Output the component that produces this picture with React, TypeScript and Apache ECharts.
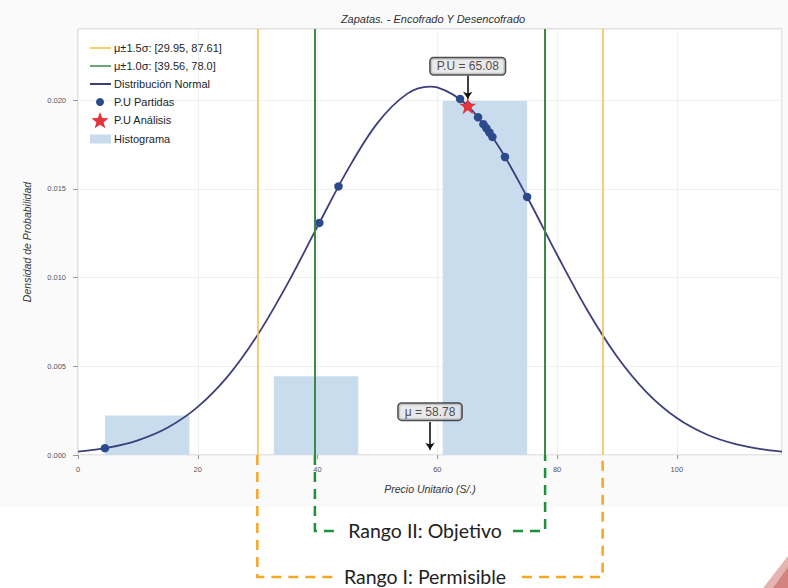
import React, { useEffect, useRef } from "react";
import * as echarts from "echarts";

// ---------- data ----------
const TITLE = "Zapatas. - Encofrado Y Desencofrado";
const X_NAME = "Precio Unitario (S/.)";
const Y_NAME = "Densidad de Probabilidad";
const MU = 58.78;
const PU_ANALISIS = 65.08;
const RANGE_15 = [29.95, 87.61];
const RANGE_10 = [39.56, 78.0];
const X_MAX = 117.56;
const Y_MAX = 0.024;

const LEGEND_LABELS = [
  "μ±1.5σ: [29.95, 87.61]",
  "μ±1.0σ: [39.56, 78.0]",
  "Distribución Normal",
  "P.U Partidas",
  "P.U Análisis",
  "Histograma",
];

// normal curve
const curveX = [0, 5, 10, 15, 20, 25, 30, 35, 40, 45, 50, 55, 58.78, 60, 65, 70, 75, 80, 85, 90, 95, 100, 105, 110, 115, 117.56];
const curveY = [0.000193, 0.000414, 0.000829, 0.001551, 0.002713, 0.004428, 0.006767, 0.009654, 0.012878, 0.016052, 0.0187, 0.020359, 0.020757, 0.020715, 0.019698, 0.017504, 0.014538, 0.011284, 0.008187, 0.005552, 0.003519, 0.002082, 0.001153, 0.000596, 0.000288, 0.000193];

// P.U partidas (dots on the curve)
const partidasX = [4.5, 40.3, 43.5, 63.8, 65.08, 66.8, 67.7, 68.2, 68.7, 69.2, 71.3, 75.0];
const partidasY = [0.000385, 0.013075, 0.01513, 0.02006, 0.01967, 0.01903, 0.01864, 0.01841, 0.01817, 0.01792, 0.01679, 0.01454];

// P.U análisis (star)
const analisisY = 0.01967;

// histogram bins
const histStart = [4.5, 32.7, 60.9];
const histEnd = [18.6, 46.8, 75.0];
const histHeight = [0.00222, 0.00443, 0.01994];

// annotation boxes (label y-levels and arrow spans)
const annotX = [PU_ANALISIS, MU];
const annotY = [0.0219, 0.00244];
const annotText = ["P.U = 65.08", "μ = 58.78"];
const arrowFrom = [0.02136, 0.00186];
const arrowTo = [0.02007, 0.0003];

const BRACKET_LABELS = ["Rango II: Objetivo", "Rango I: Permisible"];

// ---------- styles ----------
const FONT = "'Liberation Sans', Arial, sans-serif";
const C_ORANGE = "#f3c65a";
const C_GREEN = "#3a8a46";
const C_CURVE = "#3d3f7c";
const C_DOT = "#2b4a8b";
const C_STAR = "#e5343c";
const C_HIST = "#c8dcee";
const STAR_PATH =
  "path://M50,0 L61.2,34.5 L97.6,34.5 L68.2,55.9 L79.4,90.5 L50,69.1 L20.6,90.5 L31.8,55.9 L2.4,34.5 L38.8,34.5 Z";

function starPoints(cx: number, cy: number, ro: number, ri: number) {
  const pts: number[][] = [];
  for (let i = 0; i < 10; i++) {
    const r = i % 2 === 0 ? ro : ri;
    const a = -Math.PI / 2 + (i * Math.PI) / 5;
    pts.push([cx + r * Math.cos(a), cy + r * Math.sin(a)]);
  }
  return pts;
}

export default function App() {
  const ref = useRef<HTMLDivElement>(null);

  useEffect(() => {
    if (!ref.current) return;
    const chart = echarts.init(ref.current, undefined, { renderer: "svg" });

    const option: any = {
      animation: false,
      backgroundColor: "#fafafa",
      textStyle: { fontFamily: FONT },
      title: {
        text: TITLE,
        left: 428,
        top: 8,
        textAlign: "center",
        textStyle: { fontSize: 11, fontStyle: "italic", fontWeight: "normal", color: "#333", fontFamily: FONT },
      },
      grid: {
        left: 78,
        top: 29,
        right: 6,
        bottom: 133,
        show: true,
        backgroundColor: "#ffffff",
        borderColor: "#c8c8c8",
        borderWidth: 1,
      },
      xAxis: {
        type: "value",
        min: 0,
        max: X_MAX,
        interval: 20,
        name: X_NAME,
        nameLocation: "middle",
        nameGap: 28,
        nameTextStyle: { fontSize: 10.5, fontStyle: "italic", color: "#333", fontFamily: FONT },
        axisLine: { show: false },
        axisTick: { show: true, length: 4, lineStyle: { color: "#999" } },
        axisLabel: { fontSize: 7.5, color: "#555", margin: 10, showMaxLabel: false, fontFamily: FONT },
        splitLine: { show: true, lineStyle: { color: "#f0f0f0", width: 1 } },
      },
      yAxis: {
        type: "value",
        min: 0,
        max: Y_MAX,
        interval: 0.005,
        name: Y_NAME,
        nameLocation: "middle",
        nameGap: 46,
        nameRotate: 90,
        nameTextStyle: { fontSize: 10.5, fontStyle: "italic", color: "#333", fontFamily: FONT },
        axisLine: { show: false },
        axisTick: { show: true, length: 5, lineStyle: { color: "#999" } },
        axisLabel: {
          fontSize: 7.5,
          color: "#555",
          margin: 12,
          showMaxLabel: false,
          fontFamily: FONT,
          formatter: (v: number) => v.toFixed(3),
        },
        splitLine: { show: true, lineStyle: { color: "#f0f0f0", width: 1 } },
      },
      series: [
        {
          type: "custom",
          name: LEGEND_LABELS[5],
          data: histStart.map((s, i) => [s, histEnd[i], histHeight[i]]),
          encode: { x: [0, 1], y: 2 },
          z: 1,
          silent: true,
          renderItem: (params: any, api: any) => {
            const p0 = api.coord([api.value(0), api.value(2)]);
            const p1 = api.coord([api.value(1), 0]);
            return {
              type: "rect",
              shape: { x: p0[0], y: p0[1], width: p1[0] - p0[0], height: p1[1] - p0[1] },
              style: { fill: C_HIST },
            };
          },
        },
        {
          type: "line",
          name: LEGEND_LABELS[0],
          data: [],
          z: 2,
          markLine: {
            silent: true,
            symbol: "none",
            label: { show: false },
            lineStyle: { color: C_ORANGE, width: 2, type: "solid", opacity: 0.85 },
            data: RANGE_15.map((v) => ({ xAxis: v })),
          },
        },
        {
          type: "line",
          name: LEGEND_LABELS[1],
          data: [],
          z: 2,
          markLine: {
            silent: true,
            symbol: "none",
            label: { show: false },
            lineStyle: { color: C_GREEN, width: 2, type: "solid" },
            data: RANGE_10.map((v) => ({ xAxis: v })),
          },
        },
        {
          type: "line",
          name: LEGEND_LABELS[2],
          data: curveX.map((x, i) => [x, curveY[i]]),
          showSymbol: false,
          smooth: 0.35,
          z: 3,
          lineStyle: { color: C_CURVE, width: 1.8 },
          silent: true,
        },
        {
          type: "scatter",
          name: LEGEND_LABELS[3],
          data: partidasX.map((x, i) => [x, partidasY[i]]),
          symbolSize: 8.5,
          z: 4,
          itemStyle: { color: C_DOT, opacity: 1 },
          silent: true,
        },
        {
          type: "scatter",
          name: LEGEND_LABELS[4],
          data: [[PU_ANALISIS, analisisY]],
          symbol: STAR_PATH,
          symbolSize: 17,
          z: 5,
          itemStyle: { color: C_STAR, opacity: 1 },
          silent: true,
        },
        {
          type: "lines",
          coordinateSystem: "cartesian2d",
          z: 6,
          silent: true,
          symbol: ["none", "arrow"],
          symbolSize: 7,
          lineStyle: { color: "#111", width: 1.6, opacity: 1 },
          data: annotX.map((x, i) => ({ coords: [[x, arrowFrom[i]], [x, arrowTo[i]]] })),
        },
        {
          type: "scatter",
          name: "annotations",
          data: annotX.map((x, i) => [x, annotY[i], annotText[i]]),
          symbolSize: 1,
          z: 7,
          silent: true,
          itemStyle: { color: "transparent" },
          label: {
            show: true,
            position: "inside",
            formatter: (p: any) => p.data[2],
            fontSize: 12,
            color: "#222",
            fontFamily: FONT,
            backgroundColor: "#e4e4e4",
            borderColor: "#222",
            borderWidth: 1.5,
            borderRadius: 3,
            padding: [2, 6],
          },
        },
      ],
    };

    chart.setOption(option);

    // graphics positioned through the axes
    const xPx = (v: number) => chart.convertToPixel({ xAxisIndex: 0 }, v) as number;
    const yBase = chart.convertToPixel({ yAxisIndex: 0 }, 0) as number;
    const xo1 = xPx(RANGE_15[0]);
    const xo2 = xPx(RANGE_15[1]);
    const xg1 = xPx(RANGE_10[0]);
    const xg2 = xPx(RANGE_10[1]);
    const yGreen = 531;
    const yOrange = 577;
    const textCx = 425;
    const dash = [10, 7];
    const BR_FONT = "Lato, 'Open Sans', sans-serif";

    const legRows = [48, 66, 84, 102, 120, 139];
    const legText = (i: number) => ({
      type: "text",
      x: 114,
      y: legRows[i],
      z: 20,
      style: {
        text: LEGEND_LABELS[i],
        fontSize: 11,
        fontFamily: FONT,
        fill: "#1e1e1e",
        verticalAlign: "middle",
        align: "left",
      },
    });

    const graphics: any[] = [
      // white page area below the chart picture
      { type: "rect", z: 0, shape: { x: 0, y: 507, width: 788, height: 81 }, style: { fill: "#ffffff" } },
      // legend
      { type: "line", z: 20, shape: { x1: 90, y1: legRows[0], x2: 111, y2: legRows[0] }, style: { stroke: C_ORANGE, lineWidth: 2, opacity: 0.85 } },
      { type: "line", z: 20, shape: { x1: 90, y1: legRows[1], x2: 111, y2: legRows[1] }, style: { stroke: C_GREEN, lineWidth: 1.5 } },
      { type: "line", z: 20, shape: { x1: 90, y1: legRows[2], x2: 111, y2: legRows[2] }, style: { stroke: C_CURVE, lineWidth: 2 } },
      { type: "circle", z: 20, shape: { cx: 100, cy: legRows[3], r: 4 }, style: { fill: C_DOT } },
      { type: "polygon", z: 20, shape: { points: starPoints(100, legRows[4] + 1, 9, 3.8) }, style: { fill: C_STAR } },
      { type: "rect", z: 20, shape: { x: 90, y: legRows[5] - 4.5, width: 21, height: 9 }, style: { fill: C_HIST } },
      ...LEGEND_LABELS.map((_, i) => legText(i)),
      // bracket II (green)
      {
        type: "polyline",
        z: 30,
        shape: { points: [[xg1, yBase], [xg1, yGreen], [341, yGreen]] },
        style: { stroke: "#1f8f3a", lineWidth: 2.5, lineDash: dash, fill: "none" },
      },
      {
        type: "polyline",
        z: 30,
        shape: { points: [[513, yGreen], [xg2, yGreen], [xg2, yBase]] },
        style: { stroke: "#1f8f3a", lineWidth: 2.5, lineDash: dash, fill: "none" },
      },
      // bracket I (orange)
      {
        type: "polyline",
        z: 30,
        shape: { points: [[xo1, yBase], [xo1, yOrange], [336, yOrange]] },
        style: { stroke: "#f5a623", lineWidth: 2.5, lineDash: dash, fill: "none" },
      },
      {
        type: "polyline",
        z: 30,
        shape: { points: [[522, yOrange], [xo2, yOrange], [xo2, yBase]] },
        style: { stroke: "#f5a623", lineWidth: 2.5, lineDash: dash, fill: "none" },
      },
      {
        type: "text",
        z: 31,
        x: textCx,
        y: yGreen - 1,
        style: { text: BRACKET_LABELS[0], fontSize: 19.5, fontFamily: BR_FONT, fill: "#222", align: "center", verticalAlign: "middle" },
      },
      {
        type: "text",
        z: 31,
        x: textCx,
        y: yOrange - 1,
        style: { text: BRACKET_LABELS[1], fontSize: 19.5, fontFamily: BR_FONT, fill: "#222", align: "center", verticalAlign: "middle" },
      },
      // corner decoration
      { type: "polygon", z: 32, shape: { points: [[763, 588], [788, 556], [788, 588]] }, style: { fill: "#e4b4b1" } },
      { type: "polygon", z: 33, shape: { points: [[773, 588], [788, 567], [788, 588]] }, style: { fill: "#d4837f" } },
    ];

    chart.setOption({ graphic: graphics });

    return () => chart.dispose();
  }, []);

  return (
    <div
      ref={ref}
      style={{ position: "fixed", left: 0, top: 0, width: 788, height: 588 }}
    />
  );
}
